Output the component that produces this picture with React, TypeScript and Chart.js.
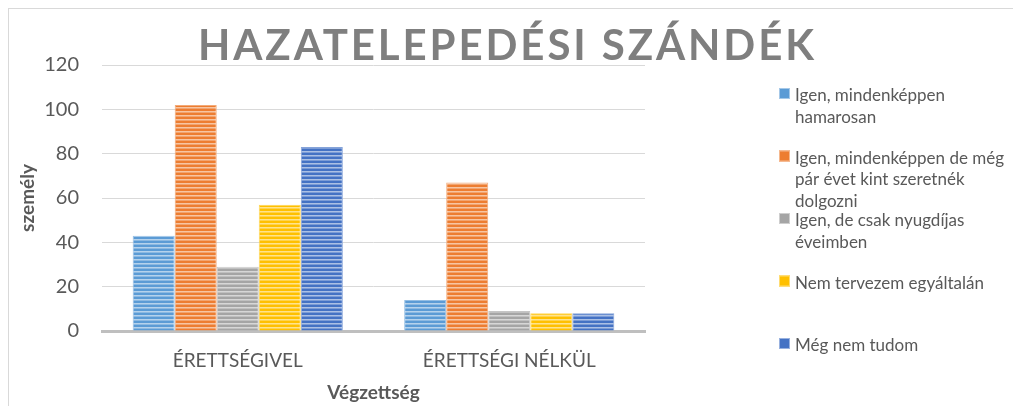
import React, { useEffect, useRef } from 'react';
import { Chart, registerables } from 'chart.js';

Chart.register(...registerables);

const chartTitle = 'HAZATELEPEDÉSI SZÁNDÉK';
const xAxisTitle = 'Végzettség';
const yAxisTitle = 'személy';
const categories = ['ÉRETTSÉGIVEL', 'ÉRETTSÉGI NÉLKÜL'];

const seriesLabels = [
  'Igen, mindenképpen hamarosan',
  'Igen, mindenképpen de még pár évet kint szeretnék dolgozni',
  'Igen, de csak nyugdíjas éveimben',
  'Nem tervezem egyáltalán',
  'Még nem tudom',
];
const legendLines = [
  ['Igen, mindenképpen', 'hamarosan'],
  ['Igen, mindenképpen de még', 'pár évet kint szeretnék', 'dolgozni'],
  ['Igen, de csak nyugdíjas', 'éveimben'],
  ['Nem tervezem egyáltalán'],
  ['Még nem tudom'],
];

const igenHamarosan = [43, 14];
const igenParEvKint = [102, 67];
const igenNyugdijas = [29, 9];
const nemTervezem = [57, 8];
const megNemTudom = [83, 8];
const seriesValues = [igenHamarosan, igenParEvKint, igenNyugdijas, nemTervezem, megNemTudom];

const seriesColors = ['#5B9BD5', '#ED7D31', '#A5A5A5', '#FFC000', '#4472C4'];

const yMin = 0;
const yMax = 120;
const yStep = 20;

const FONT = 'Lato';
const TEXT = '#595959';

function mix(hex: string, t: number) {
  const n = parseInt(hex.slice(1), 16);
  const r = (n >> 16) & 255, g = (n >> 8) & 255, b = n & 255;
  const f = (c: number) => Math.round(c + (255 - c) * t);
  return `rgb(${f(r)},${f(g)},${f(b)})`;
}

function stripePattern(ctx: CanvasRenderingContext2D, hex: string) {
  const c = document.createElement('canvas');
  c.width = 4;
  c.height = 4;
  const p = c.getContext('2d')!;
  p.fillStyle = hex;
  p.fillRect(0, 0, 4, 4);
  p.fillStyle = mix(hex, 0.55);
  p.fillRect(0, 2, 4, 1);
  p.fillStyle = mix(hex, 0.3);
  p.fillRect(0, 3, 4, 1);
  return ctx.createPattern(c, 'repeat') as CanvasPattern;
}

const titlePlugin = {
  id: 'spacedTitle',
  afterDraw(chart: any) {
    const ctx = chart.ctx as CanvasRenderingContext2D;
    ctx.save();
    ctx.font = `bold 42px ${FONT}`;
    ctx.fillStyle = '#7F7F7F';
    ctx.textBaseline = 'alphabetic';
    ctx.textAlign = 'left';
    (ctx as any).letterSpacing = '0px';
    const w0 = ctx.measureText(chartTitle).width;
    const target = 616;
    const n = Array.from(chartTitle).length;
    const s = (target - w0) / (n - 1);
    (ctx as any).letterSpacing = `${s}px`;
    ctx.fillText(chartTitle, 497 - target / 2, 51);
    ctx.restore();
  },
};

const legendPlugin = {
  id: 'sideLegend',
  afterDraw(chart: any) {
    const ctx = chart.ctx as CanvasRenderingContext2D;
    ctx.save();
    ctx.font = `17px ${FONT}`;
    ctx.textBaseline = 'alphabetic';
    ctx.textAlign = 'left';
    chart.data.datasets.forEach((_ds: any, i: number) => {
      const top = 79 + i * 62.5;
      ctx.fillStyle = seriesColors[i];
      ctx.fillRect(770, top, 11, 11);
      ctx.strokeStyle = mix(seriesColors[i], 0.45);
      ctx.lineWidth = 1;
      ctx.strokeRect(770.5, top + 0.5, 10, 10);
      ctx.fillStyle = TEXT;
      legendLines[i].forEach((line, j) => {
        ctx.fillText(line, 786, top + 13 + j * 21.7);
      });
    });
    ctx.restore();
  },
};

export default function App() {
  const ref = useRef<HTMLCanvasElement>(null);

  useEffect(() => {
    document.body.style.overflow = 'hidden';
    const canvas = ref.current!;
    const ctx = canvas.getContext('2d')!;
    Chart.defaults.font.family = FONT;
    const chart = new Chart(ctx, {
      type: 'bar',
      data: {
        labels: categories,
        datasets: seriesLabels.map((label, i) => ({
          label,
          data: seriesValues[i],
          backgroundColor: stripePattern(ctx, seriesColors[i]),
          borderColor: mix(seriesColors[i], 0.35),
          borderWidth: 1,
          categoryPercentage: 0.774,
          barPercentage: 1,
        })),
      },
      options: {
        responsive: false,
        animation: false,
        layout: { padding: { top: 56, right: 376, left: 0, bottom: 0 } },
        plugins: {
          legend: { display: false },
          title: { display: false },
          tooltip: { enabled: false },
        },
        scales: {
          x: {
            afterFit: (scale: any) => {
              scale.height = 75;
            },
            grid: { display: false, drawTicks: false },
            border: { display: true, color: '#BFBFBF', width: 3 },
            ticks: {
              color: TEXT,
              font: { family: FONT, size: 19 },
              padding: 18,
              maxRotation: 0,
            },
            title: {
              display: true,
              text: xAxisTitle,
              color: TEXT,
              font: { family: FONT, size: 19, weight: 'bold' },
              padding: { top: 0, bottom: 2 },
            },
          },
          y: {
            min: yMin,
            max: yMax,
            afterFit: (scale: any) => {
              scale.width = 93;
            },
            grid: { color: '#D9D9D9', lineWidth: 1, drawTicks: false },
            border: { display: false },
            ticks: {
              stepSize: yStep,
              color: TEXT,
              font: { family: FONT, size: 20 },
              padding: 23,
            },
            title: {
              display: true,
              text: yAxisTitle,
              color: TEXT,
              font: { family: FONT, size: 19, weight: 'bold' },
              padding: { top: 7, bottom: 0 },
            },
          },
        },
      },
      plugins: [titlePlugin, legendPlugin],
    } as any);
    return () => chart.destroy();
  }, []);

  return (
    <div
      style={{
        borderTop: '1px solid #D9D9D9',
        borderLeft: '1px solid #D9D9D9',
        width: 1012,
        height: 397,
      }}
    >
      <canvas ref={ref} width={1012} height={397} style={{ display: 'block' }} />
    </div>
  );
}
